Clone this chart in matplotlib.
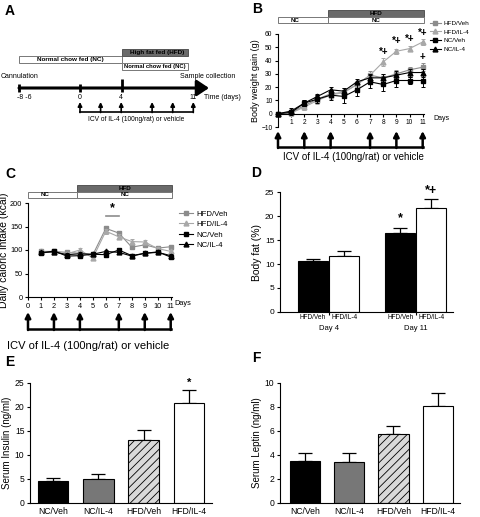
import matplotlib
matplotlib.use('Agg')
import matplotlib.pyplot as plt
from matplotlib.patches import Rectangle
from matplotlib.transforms import blended_transform_factory as blend

plt.rcParams['font.family'] = ['Liberation Sans', 'DejaVu Sans']
plt.rcParams['hatch.linewidth'] = 0.6
plt.rcParams['axes.linewidth'] = 0.8

W, H = 480, 517

# ---- data ----
inj_days = [0, 2, 4, 7, 9, 11]

b_days = list(range(12))
b_hfd_veh = [0, 1, 6, 11, 15, 16, 22, 29, 27, 30, 33, 35]
b_hfd_veh_err = [0, 2, 2, 3, 3, 3, 3, 3, 3, 3, 2, 3]
b_hfd_il4 = [0, 0.5, 5, 10, 14, 16, 22, 29, 39, 47, 49, 54]
b_hfd_il4_err = [0, 2, 2, 3, 3, 3, 3, 2, 3, 2, 2, 2]
b_nc_veh = [0, 1, 8, 11, 14, 13, 18, 24, 22, 25, 25, 25]
b_nc_veh_err = [0, 2, 2, 3, 4, 5, 5, 5, 5, 5, 3, 5]
b_nc_il4 = [0, 2, 8, 13, 18, 17, 24, 27, 27, 29, 31, 31]
b_nc_il4_err = [0, 2, 2, 2, 2, 2, 2, 3, 3, 3, 3, 3]

c_days = list(range(1, 12))
c_hfd_veh = [97, 97, 95, 93, 90, 146, 136, 106, 111, 104, 107]
c_hfd_veh_err = [3, 3, 3, 3, 4, 4, 4, 4, 4, 3, 4]
c_hfd_il4 = [97, 95, 92, 100, 83, 140, 128, 118, 117, 103, 97]
c_hfd_il4_err = [3, 3, 3, 4, 5, 5, 5, 5, 5, 3, 4]
c_nc_veh = [93, 98, 87, 88, 91, 90, 100, 88, 93, 96, 85]
c_nc_veh_err = [3, 3, 3, 3, 3, 4, 4, 3, 3, 3, 4]
c_nc_il4 = [95, 96, 90, 92, 91, 97, 95, 87, 93, 95, 88]
c_nc_il4_err = [3, 3, 3, 3, 3, 4, 4, 3, 3, 3, 4]

d_labels = ['HFD/Veh', 'HFD/IL-4', 'HFD/Veh', 'HFD/IL-4']
d_groups = ['Day 4', 'Day 11']
d_vals = [10.7, 11.6, 16.4, 21.6]
d_err = [0.3, 1.2, 1.1, 1.9]

groups = ['NC/Veh', 'NC/IL-4', 'HFD/Veh', 'HFD/IL-4']
e_vals = [4.6, 4.9, 13.1, 20.9]
e_err = [0.6, 1.2, 2.1, 2.6]
f_vals = [3.5, 3.45, 5.75, 8.1]
f_err = [0.65, 0.7, 0.65, 1.05]

GRAY1 = '#8c8c8c'
GRAY2 = '#a8a8a8'
DARK = '#6a6a6a'


def px_axes(fig, l, t, r, b):
    return fig.add_axes([l / W, 1 - b / H, (r - l) / W, (b - t) / H])


def style(ax, fs=5.5):
    for s in ['top', 'right']:
        ax.spines[s].set_visible(False)
    ax.tick_params(labelsize=fs, length=2.5, width=0.8, pad=1.5)


fig = plt.figure(figsize=(W / 100, H / 100), dpi=100)

# overlay in pixel coordinates for schematic / free text
ov = fig.add_axes([0, 0, 1, 1])
ov.set_xlim(0, W)
ov.set_ylim(H, 0)
ov.axis('off')

for lab, x, y in [('A', 5, 15), ('B', 252, 13), ('C', 5, 178), ('D', 251, 177),
                  ('E', 5, 366), ('F', 252, 362)]:
    ov.text(x, y, lab, fontsize=10, fontweight='bold', va='baseline')

# ---------------- panel A ----------------
def ax_x(d):
    return 80 + 10.3 * d

ov.add_patch(Rectangle((19, 56), 103, 7, fc='white', ec='#777777', lw=0.7))
ov.add_patch(Rectangle((122, 49), 66, 7, fc=DARK, ec='#555555', lw=0.7))
ov.add_patch(Rectangle((122, 63), 66, 7, fc='white', ec='#777777', lw=0.7))
ov.text(70, 59.8, 'Normal chow fed (NC)', fontsize=4.6, fontweight='bold', ha='center', va='center')
ov.text(157, 52.8, 'High fat fed (HFD)', fontsize=4.6, fontweight='bold', ha='center', va='center')
ov.text(155, 66.8, 'Normal chow fed (NC)', fontsize=4.2, fontweight='bold', ha='center', va='center')

ov.annotate('', xy=(209, 88), xytext=(19, 88),
            arrowprops=dict(arrowstyle='-|>,head_length=0.6,head_width=0.4', lw=2.2,
                            color='k', mutation_scale=12, shrinkA=0, shrinkB=0))
for x, top in [(19, 84), (80, 84), (122, 79)]:
    ov.plot([x, x], [top, 92], color='k', lw=2, solid_capstyle='butt')
ov.text(20, 78, 'Cannulation', fontsize=5, ha='center', va='baseline')
ov.text(208, 78, 'Sample collection', fontsize=5, ha='center', va='baseline')
for s, x in [('-8 -6', 24), ('0', ax_x(0)), ('4', ax_x(4)), ('11', ax_x(11))]:
    ov.text(x, 99, s, fontsize=5, ha='center', va='baseline')
ov.text(222, 99, 'Time (days)', fontsize=5, ha='center', va='baseline')
for d in inj_days:
    ov.annotate('', xy=(ax_x(d), 102), xytext=(ax_x(d), 112.5),
                arrowprops=dict(arrowstyle='-|>', lw=1.2, color='k', mutation_scale=6,
                                shrinkA=0, shrinkB=0))
ov.plot([ax_x(0), ax_x(11)], [112, 112], color='k', lw=1.2)
ov.text(136, 121, 'ICV of IL-4 (100ng/rat) or vehicle', fontsize=4.8, ha='center', va='baseline')


def schematic(ax, top, split=3.8, end=11.1, h=7):
    tr = blend(ax.transData, ov.transData)
    ax.add_patch(Rectangle((0, top + h), split, h - 1, fc='white', ec='#777777', lw=0.7,
                           transform=tr, clip_on=False))
    ax.add_patch(Rectangle((split, top), end - split, h, fc=DARK, ec='#555555', lw=0.7,
                           transform=tr, clip_on=False))
    ax.add_patch(Rectangle((split, top + h), end - split, h - 1, fc='white', ec='#777777', lw=0.7,
                           transform=tr, clip_on=False))
    ax.text(split / 2 - 0.6, top + h + (h - 1) / 2, 'NC', fontsize=4.5, fontweight='bold',
            ha='center', va='center', transform=tr)
    ax.text((split + end) / 2, top + h / 2, 'HFD', fontsize=4.5, fontweight='bold',
            ha='center', va='center', transform=tr)
    ax.text((split + end) / 2, top + h + (h - 1) / 2, 'NC', fontsize=4.5, fontweight='bold',
            ha='center', va='center', transform=tr)


def arrow_row(ax, y_top, y_bot, lw=1.8, ms=8):
    tr = blend(ax.transData, ov.transData)
    for d in inj_days:
        ax.annotate('', xy=(d, y_top), xytext=(d, y_bot + 1), xycoords=tr, textcoords=tr,
                    annotation_clip=False,
                    arrowprops=dict(arrowstyle='-|>', lw=lw, color='k', mutation_scale=ms,
                                    shrinkA=0, shrinkB=0))
    ax.plot([inj_days[0], inj_days[-1]], [y_bot, y_bot], color='k', lw=lw, transform=tr,
            clip_on=False)


def series(ax, x, y, err, color, marker, label, ms):
    ax.errorbar(x, y, yerr=err, color=color, fmt='none', elinewidth=0.7,
                capsize=1.5, capthick=0.7, clip_on=False)
    ax.plot(x, y, color=color, marker=marker, ms=ms, lw=0.8, label=label, clip_on=False)


# ---------------- panel B ----------------
axb = px_axes(fig, 278, 34, 424, 127)
style(axb, 4.8)
series(axb, b_days, b_hfd_veh, b_hfd_veh_err, GRAY1, 's', 'HFD/Veh', 3)
series(axb, b_days, b_hfd_il4, b_hfd_il4_err, GRAY2, '^', 'HFD/IL-4', 3.5)
series(axb, b_days, b_nc_veh, b_nc_veh_err, 'k', 's', 'NC/Veh', 3)
series(axb, b_days, b_nc_il4, b_nc_il4_err, 'k', '^', 'NC/IL-4', 3.5)
axb.set_xlim(0, 11.1)
axb.set_ylim(-10, 60)
axb.set_yticks(range(-10, 61, 10))
axb.set_xticks(range(1, 12))
axb.spines['bottom'].set_position(('data', 0))
axb.set_ylabel('Body weight gain (g)', fontsize=6.5, labelpad=1)
for d, y, s in [(8, 43, '*+'), (9, 51, '*+'), (10, 52.5, '*+'), (11, 57, '*+'), (11, 39, '+')]:
    axb.text(d, y, s, fontsize=7, fontweight='bold', ha='center', va='bottom')
axb.legend(loc='upper left', bbox_to_anchor=(427 / W, 1 - 18 / H), bbox_transform=fig.transFigure,
           frameon=False, fontsize=4.6, handlelength=1.8, handletextpad=0.4, labelspacing=0.5,
           borderaxespad=0)
schematic(axb, 10)
arrow_row(axb, 131, 147)
ov.text(441, 120, 'Days', fontsize=5, ha='center', va='baseline')
ov.text(353, 160, 'ICV of IL-4 (100ng/rat) or vehicle', fontsize=7, ha='center', va='baseline')

# ---------------- panel C ----------------
axc = px_axes(fig, 28, 203, 172, 297)
style(axc, 5.3)
series(axc, c_days, c_hfd_veh, c_hfd_veh_err, GRAY1, 's', 'HFD/Veh', 3.3)
series(axc, c_days, c_hfd_il4, c_hfd_il4_err, GRAY2, '^', 'HFD/IL-4', 3.5)
series(axc, c_days, c_nc_veh, c_nc_veh_err, 'k', 's', 'NC/Veh', 3.3)
series(axc, c_days, c_nc_il4, c_nc_il4_err, 'k', '^', 'NC/IL-4', 3.5)
axc.set_xlim(0, 11.1)
axc.set_ylim(0, 200)
axc.set_yticks(range(0, 201, 50))
axc.set_xticks(range(0, 12))
axc.set_ylabel('Daily caloric intake (kcal)', fontsize=7.5, labelpad=1)
axc.plot([6, 7], [172, 172], color=GRAY1, lw=1.2)
axc.text(6.5, 176, '*', fontsize=9, fontweight='bold', ha='center', va='bottom')
axc.legend(loc='upper left', bbox_to_anchor=(176 / W, 1 - 207 / H), bbox_transform=fig.transFigure,
           frameon=False, fontsize=5.6, handlelength=1.8, handletextpad=0.4, labelspacing=0.4,
           borderaxespad=0)
schematic(axc, 185)
arrow_row(axc, 312, 329)
ov.text(183, 305, 'Days', fontsize=5.3, ha='center', va='baseline')
ov.text(88, 349, 'ICV of IL-4 (100ng/rat) or vehicle', fontsize=8, ha='center', va='baseline')


def bars(ax, pos, vals, err, colors, width, hatches=None):
    for i, (p, v, e, c) in enumerate(zip(pos, vals, err, colors)):
        hatch = hatches[i] if hatches else None
        ax.bar(p, v, width, color=c, edgecolor='k', lw=0.8, hatch=hatch, zorder=2)
        ax.errorbar(p, v, yerr=[[0], [e]], color='k', lw=0.9, capsize=5, capthick=0.9, zorder=1)


# ---------------- panel D ----------------
axd = px_axes(fig, 280, 192, 453, 312)
style(axd, 6)
d_pos = [0, 1, 2.8, 3.8]
bars(axd, d_pos, d_vals, d_err, ['k', 'white', 'k', 'white'], 0.95)
axd.set_xlim(-1.06, 4.5)
axd.set_ylim(0, 25)
axd.set_yticks(range(0, 26, 5))
axd.set_xticks([0.5, 3.3])
axd.set_xticklabels(d_groups, fontsize=5.5)
axd.tick_params(axis='x', which='major', length=2.5, pad=7)
axd.set_xticks(d_pos, minor=True)
axd.set_xticklabels(d_labels, minor=True, fontsize=4.7)
axd.tick_params(axis='x', which='minor', length=0, pad=1.5)
axd.set_ylabel('Body fat (%)', fontsize=7.5, labelpad=2)
axd.text(d_pos[2], 18.2, '*', fontsize=9, fontweight='bold', ha='center', va='bottom')
axd.text(d_pos[3], 24.0, '*+', fontsize=9, fontweight='bold', ha='center', va='bottom')

# ---------------- panel E ----------------
bar_colors = ['k', '#777777', '#d9d9d9', 'white']
bar_hatch = [None, None, '////', None]
axe = px_axes(fig, 30, 383, 212, 503)
style(axe, 6.2)
bars(axe, range(4), e_vals, e_err, bar_colors, 0.67, bar_hatch)
axe.set_xlim(-0.51, 3.51)
axe.set_ylim(0, 25)
axe.set_yticks(range(0, 26, 5))
axe.set_xticks(range(4))
axe.set_xticklabels(groups, fontsize=6.2)
axe.tick_params(axis='x', length=0, pad=3)
axe.set_ylabel('Serum Insulin (ng/ml)', fontsize=7, labelpad=2)
axe.text(3, 24.0, '*', fontsize=8, fontweight='bold', ha='center', va='bottom')

# ---------------- panel F ----------------
axf = px_axes(fig, 280, 383, 460, 503)
style(axf, 6.2)
bars(axf, range(4), f_vals, f_err, bar_colors, 0.68, bar_hatch)
axf.set_xlim(-0.56, 3.5)
axf.set_ylim(0, 10)
axf.set_yticks(range(0, 11, 2))
axf.set_xticks(range(4))
axf.set_xticklabels(groups, fontsize=6.2)
axf.tick_params(axis='x', length=0, pad=3)
axf.set_ylabel('Serum Leptin (ng/ml)', fontsize=7, labelpad=2)

fig.savefig('out.png', dpi=100)
